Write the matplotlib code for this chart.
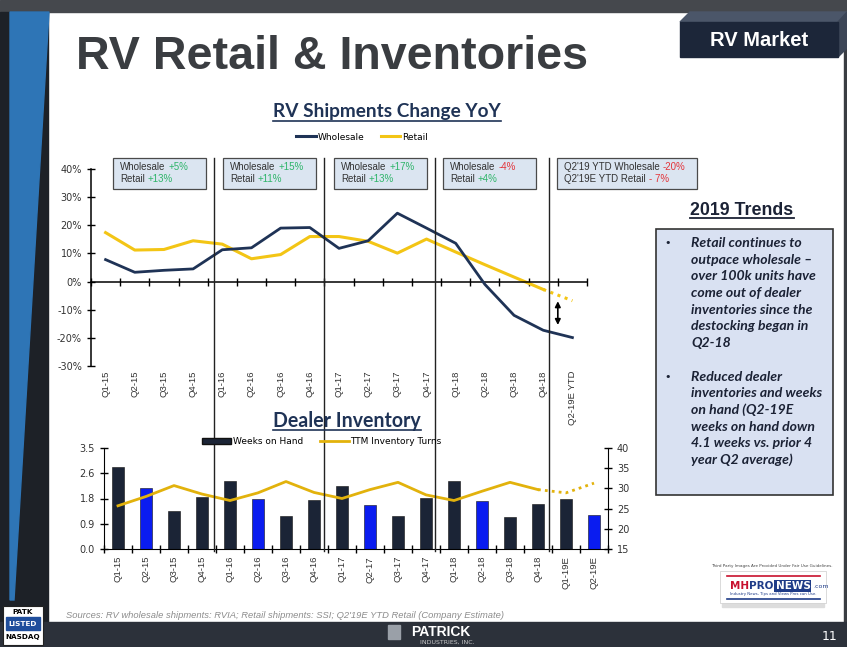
import numpy as np
import matplotlib
matplotlib.use('Agg')
import matplotlib.pyplot as plt
from matplotlib.patches import Rectangle, Polygon, Patch
from matplotlib.lines import Line2D

W, H = 847, 647

# --- data: RV shipments change YoY (%) ---
top_labels = ['Q1-15', 'Q2-15', 'Q3-15', 'Q4-15', 'Q1-16', 'Q2-16', 'Q3-16', 'Q4-16',
              'Q1-17', 'Q2-17', 'Q3-17', 'Q4-17', 'Q1-18', 'Q2-18', 'Q3-18', 'Q4-18',
              'Q2-19E YTD']
wholesale = [7.8, 3.3, 4.0, 4.5, 11.3, 12.0, 19.0, 19.2, 11.8, 14.5, 24.3, 19.0,
             13.6, -1.0, -12.0, -17.3, -19.9]
retail = [17.4, 11.2, 11.4, 14.5, 13.3, 8.1, 9.6, 16.0, 16.0, 14.3, 10.1, 15.1,
          10.5, 6.0, 1.6, -2.8, -6.8]

# yearly call-out boxes
box_wholesale_txt = ['Wholesale', 'Wholesale', 'Wholesale', 'Wholesale', "Q2'19 YTD Wholesale"]
box_wholesale_val = ['+5%', '+15%', '+17%', '-4%', '-20%']
box_retail_txt = ['Retail', 'Retail', 'Retail', 'Retail', "Q2'19E YTD Retail"]
box_retail_val = ['+13%', '+11%', '+13%', '+4%', '- 7%']

# --- data: dealer inventory ---
bottom_labels = ['Q1-15', 'Q2-15', 'Q3-15', 'Q4-15', 'Q1-16', 'Q2-16', 'Q3-16', 'Q4-16',
                 'Q1-17', 'Q2-17', 'Q3-17', 'Q4-17', 'Q1-18', 'Q2-18', 'Q3-18', 'Q4-18',
                 'Q1-19E', 'Q2-19E']
weeks_on_hand = [2.84, 2.11, 1.31, 1.80, 2.34, 1.74, 1.13, 1.69, 2.17, 1.51, 1.16, 1.77,
                 2.34, 1.66, 1.12, 1.56, 1.74, 1.19]
inventory_turns = [25.7, 28.0, 30.7, 28.6, 27.0, 28.9, 31.7, 29.0, 27.5, 29.7, 31.5, 28.4,
                   27.0, 29.3, 31.5, 29.7, 28.9, 31.3]
left_ticks = [0.0, 0.875, 1.75, 2.625, 3.5]
left_tick_labels = ['0.0', '0.9', '1.8', '2.6', '3.5']

trends = [['Retail continues to', 'outpace wholesale \u2013', 'over 100k units have',
           'come out of dealer', 'inventories since the', 'destocking began in', 'Q2-18'],
          ['Reduced dealer', 'inventories and weeks', 'on hand (Q2-19E',
           'weeks on hand down', '4.1 weeks vs. prior 4', 'year Q2 average)']]

NAVY = '#1f3356'
YELLOW = '#f3c515'
GOLD = '#e2b20c'
GREEN = '#2fb56a'
RED = '#e3343a'
TXT = '#333333'

fig = plt.figure(figsize=(8.47, 6.47), dpi=100)
fig.patch.set_facecolor('white')
r = fig.canvas.get_renderer()


def fx(x):
    return x / W


def fy(y):
    return 1 - y / H


def rect(x0, y0, x1, y1, **kw):
    p = Rectangle((fx(x0), fy(y1)), (x1 - x0) / W, (y1 - y0) / H,
                  transform=fig.transFigure, **kw)
    fig.patches.append(p)
    return p


def poly(pts, **kw):
    p = Polygon([(fx(x), fy(y)) for x, y in pts], closed=True,
                transform=fig.transFigure, **kw)
    fig.patches.append(p)


def txt(x, y, s, **kw):
    return fig.text(fx(x), fy(y), s, **kw)


def fit(t, width):
    bb = t.get_window_extent(r)
    t.set_fontsize(t.get_fontsize() * width / bb.width)


def underline(t, y, lw=1.0, color='k'):
    bb = t.get_window_extent(r)
    fig.add_artist(Line2D([bb.x0 / W, bb.x1 / W], [fy(y), fy(y)], color=color, lw=lw))


def ctext(x, y, parts, gap=3, **kw):
    # pieces of text in different colours, placed one after another
    for s, c in parts:
        t = txt(x, y, s, color=c, ha='left', va='center', **kw)
        x += t.get_window_extent(r).width + gap
    return x


# ---------------- slide frame ----------------
rect(0, 0, W, 12, color='#45484d', zorder=0)
rect(0, 12, 48, 622, color='#1d2127', zorder=0)
poly([(10, 12), (49, 12), (14, 600), (10, 600)], color='#2e75b6', zorder=0)
rect(844, 12, W, 622, color='#3a3d42', zorder=0)
rect(0, 622, W, H, color='#2c313a', zorder=0)

# title
t = txt(76, 69, 'RV Retail & Inventories', fontsize=34, fontweight='bold',
        family='Liberation Sans', color='#3a3d41', va='baseline', ha='left')
fit(t, 513)

# RV Market tab
poly([(680, 22), (690, 12), (847, 12), (838, 22)], color='#4b5669')
poly([(838, 22), (847, 12), (847, 48), (838, 57)], color='#3c4657')
rect(680, 22, 838, 57, color='#1c2639')
txt(759, 40, 'RV Market', fontsize=14.5, fontweight='bold', family='Liberation Sans',
    color='white', ha='center', va='center')

# ---------------- top chart ----------------
t = txt(387, 117, 'RV Shipments Change YoY', fontsize=13, fontweight='bold', family='Lato',
        color=NAVY, ha='center', va='baseline')
fit(t, 227)
underline(t, 121, lw=1.2, color=NAVY)

ax1 = fig.add_axes([fx(91), fy(366), 496 / W, 197 / H])
x = np.arange(len(top_labels))
ax1.plot(x, wholesale, color=NAVY, lw=2, zorder=3)
ax1.plot(x[:-1], retail[:-1], color=YELLOW, lw=2.2, zorder=2)
ax1.plot(x[-2:], retail[-2:], color=YELLOW, lw=2.2, ls=(0, (1, 1.5)), zorder=2)
ax1.annotate('', xy=(15.5, -6.0), xytext=(15.5, -16.4),
             arrowprops=dict(arrowstyle='<|-|>', color='black', lw=1.2, mutation_scale=8))
ax1.set_xlim(-0.5, len(top_labels) - 0.5)
ax1.set_ylim(-30, 40)
ax1.spines[['top', 'right']].set_visible(False)
ax1.spines['bottom'].set_position(('data', 0))
ax1.spines['left'].set_linewidth(1.1)
ax1.spines['bottom'].set_linewidth(1.1)
ax1.set_xticks(np.arange(-0.5, len(top_labels), 1))
ax1.set_xticklabels([])
ax1.set_yticks(range(-30, 41, 10))
ax1.set_yticklabels([f'{v}%' for v in range(-30, 41, 10)])
ax1.tick_params(direction='inout', length=6, width=1, labelsize=7, colors='black',
                labelcolor=TXT)
for i, lab in enumerate(top_labels):
    ax1.text(i, -31.5, lab, rotation=90, ha='center', va='top', fontsize=6.8,
             color=TXT, family='Liberation Sans')
ax1.patch.set_alpha(0)

fig.legend(handles=[Line2D([], [], color=NAVY, lw=2.2, label='Wholesale'),
                    Line2D([], [], color=YELLOW, lw=2.2, label='Retail')],
           loc='center', bbox_to_anchor=(fx(362), fy(137)), ncol=2, frameon=False,
           fontsize=6.5, handlelength=2.2, handletextpad=0.2, columnspacing=1.8)

# call-out boxes
boxes = [(113, 206), (223, 316), (334, 427), (443, 536), (557, 697)]
for i, (x0, x1) in enumerate(boxes):
    rect(x0, 158, x1, 189, facecolor='#dbe5f1', edgecolor='#4a4a4a', lw=0.9, zorder=4)
    c1 = GREEN if box_wholesale_val[i].startswith('+') else RED
    c2 = GREEN if box_retail_val[i].startswith('+') else RED
    ctext(x0 + 7, 167, [(box_wholesale_txt[i], TXT), (box_wholesale_val[i], c1)],
          fontsize=7, family='Liberation Sans', zorder=5)
    ctext(x0 + 7, 179, [(box_retail_txt[i], TXT), (box_retail_val[i], c2)],
          fontsize=7, family='Liberation Sans', zorder=5)

# year separators
for xs in [214, 324, 435, 549]:
    fig.add_artist(Line2D([fx(xs), fx(xs)], [fy(158), fy(551)], color='#222222', lw=1))

# ---------------- bottom chart ----------------
t = txt(347, 427, 'Dealer Inventory', fontsize=13, fontweight='bold', family='Lato',
        color=NAVY, ha='center', va='baseline')
fit(t, 147)
underline(t, 430, lw=1.2, color=NAVY)

ax2 = fig.add_axes([fx(104), fy(549), 504 / W, 101 / H])
xb = np.arange(len(bottom_labels))
bar_colors = ['#0a1cf0' if lab.startswith('Q2') else '#1b2436' for lab in bottom_labels]
ax2.bar(xb, weeks_on_hand, width=0.45, color=bar_colors, edgecolor='#111111', lw=0.4,
        zorder=2)
ax2.set_xlim(-0.5, len(bottom_labels) - 0.5)
ax2.set_ylim(0, 3.5)
ax2.set_yticks(left_ticks)
ax2.set_yticklabels(left_tick_labels)
ax2.set_xticks(xb)
ax2.set_xticklabels(bottom_labels, rotation=90, fontsize=6.8, color=TXT,
                    family='Liberation Sans')
ax2.set_xticks(np.arange(-0.5, len(bottom_labels), 1), minor=True)
ax2.tick_params(axis='x', which='major', length=0, pad=5)
ax2.tick_params(axis='x', which='minor', direction='inout', length=6, width=1)
ax2.tick_params(axis='y', direction='inout', length=6, width=1, labelsize=7,
                labelcolor=TXT)
ax2.spines[['top', 'right']].set_visible(False)
ax2.patch.set_alpha(0)

ax3 = ax2.twinx()
ax3.plot(xb[:16], inventory_turns[:16], color=GOLD, lw=2, zorder=3)
ax3.plot(xb[15:], inventory_turns[15:], color=GOLD, lw=2, ls=(0, (1, 1.5)), zorder=3)
ax3.set_ylim(15, 40)
ax3.set_yticks(range(15, 41, 5))
ax3.tick_params(axis='y', direction='inout', length=6, width=1, labelsize=7,
                labelcolor=TXT)
ax3.spines[['top', 'left', 'bottom']].set_visible(False)

fig.legend(handles=[Patch(facecolor='#1b2436', edgecolor='#111111', label='Weeks on Hand'),
                    Line2D([], [], color=GOLD, lw=2, label='TTM Inventory Turns')],
           loc='center', bbox_to_anchor=(fx(322), fy(442)), ncol=2, frameon=False,
           fontsize=6.5, handlelength=3.2, handleheight=0.6, handletextpad=0.2,
           columnspacing=1.8)

# ---------------- 2019 trends box ----------------
t = txt(742, 215, '2019 Trends', fontsize=12, fontweight='bold', family='Liberation Sans',
        color='#1b2235', ha='center', va='baseline')
fit(t, 102)
underline(t, 218, lw=1.3, color='#1b2235')
rect(656, 229, 833, 495, facecolor='#d9e1f2', edgecolor='#333333', lw=1.2)
probe = txt(691, 0, 'inventories and weeks', fontsize=9.5, fontweight='bold',
            style='italic', family='Lato')
fit(probe, 131)
fs = probe.get_fontsize()
probe.remove()
yl = 243
for grp in trends:
    txt(668, yl, '\u2022', fontsize=8, color='#1b2235', ha='center', va='center')
    for line in grp:
        txt(691, yl, line, fontsize=fs, fontweight='bold', style='italic', family='Lato',
            color='#1b2235', ha='left', va='center')
        yl += 16.7
    yl += 16.7

# ---------------- footer ----------------
t = txt(66, 615, "Sources: RV wholesale shipments: RVIA; Retail shipments: SSI; "
        "Q2'19E YTD Retail (Company Estimate)", fontsize=7, style='italic',
        family='Liberation Sans', color='#8c8c8c', ha='left', va='center')
fit(t, 439)

rect(3, 606, 43, 645, facecolor='white', edgecolor='#222222', lw=0.8)
rect(6, 617, 40, 630, color='#1f4e9c')
txt(23, 611.5, 'PATK', fontsize=5.2, fontweight='bold', color='black', ha='center', va='center')
txt(23, 623.5, 'LISTED', fontsize=5.2, fontweight='bold', color='white', ha='center', va='center')
txt(23, 637, 'NASDAQ', fontsize=5.2, fontweight='bold', color='black', ha='center', va='center')

txt(441, 632, 'PATRICK', fontsize=10, fontweight='bold', family='Liberation Sans',
    color='white', ha='center', va='center')
txt(447, 642, 'INDUSTRIES, INC.', fontsize=4.5, color='#c8c8c8', ha='center', va='center')
rect(388, 625, 400, 639, color='#9aa0a8')
txt(830, 637, '11', fontsize=9, color='white', ha='center', va='center')

# MHProNews badge
txt(772, 566, 'Third Party Images Are Provided Under Fair Use Guidelines.', fontsize=3,
    color='#444444', ha='center', va='center')
rect(722, 603, 824, 607, color='#dddddd')
rect(720, 571, 826, 603, facecolor='white', edgecolor='#cccccc', lw=0.5)
fig.add_artist(Line2D([fx(727), fx(820)], [fy(576), fy(576)], color='#c8102e', lw=1.2))
fig.add_artist(Line2D([fx(727), fx(820)], [fy(599), fy(599)], color='#1f3c88', lw=1.2))
xm = ctext(730, 586, [('MH', '#c8102e'), ('PRO', '#1f3c88')], gap=0, fontsize=7.5,
           fontweight='bold')
t = txt(xm + 2, 586, 'NEWS', fontsize=7.5, fontweight='bold', color='white', ha='left',
        va='center', bbox=dict(boxstyle='square,pad=0.1', fc='#1f3c88', ec='none'))
xm += t.get_window_extent(r).width + 5
txt(xm, 587, '.com', fontsize=4.5, color='#1f3c88', ha='left', va='center')
txt(773, 594, 'Industry News, Tips and Views Pros can Use.', fontsize=2.8, color='#1f3c88',
    ha='center', va='center')

fig.savefig('out.png', dpi=100)
